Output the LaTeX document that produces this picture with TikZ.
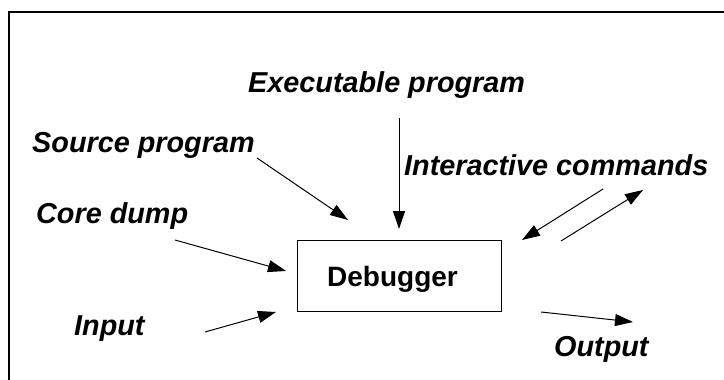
\documentclass[tikz,border=0pt]{standalone}
\usepackage{fontspec}
\setmainfont{Liberation Sans}
\usetikzlibrary{arrows.meta}
\begin{document}
\begin{tikzpicture}[x=1pt,y=-1pt,
  lbl/.style={anchor=base west,inner sep=0pt,font=\fontsize{28.8}{32}\selectfont\bfseries\itshape},
  flow/.style={line width=1pt,-{Triangle[length=18pt,width=12pt]}},
  boxnode/.style={draw,line width=1pt,minimum width=204pt,minimum height=71pt,inner sep=0pt,
    text depth=0pt,font=\fontsize{28}{32}\selectfont\bfseries}]
\useasboundingbox (0,0) rectangle (724,380);
\draw[line width=1.2pt] (9,380) -- (9,12) -- (724,12);
\node[boxnode] (dbg) at (399,276) {Debugger\kern13pt};
\node[lbl] (exe) at (248,92) {Executable program};
\node[lbl] (src) at (32,152) {Source program};
\node[lbl] (core) at (36,223) {Core dump};
\node[lbl] (inp) at (74,335) {Input};
\node[lbl] (inter) at (404,175) {Interactive commands};
\node[lbl] (out) at (554,356) {Output};
\coordinate (exeS) at (399,118);
\coordinate (exeT) at (399,229);
\coordinate (srcS) at (257,158);
\coordinate (srcT) at (348,220);
\coordinate (coreS) at (175,240);
\coordinate (coreT) at (286,271);
\coordinate (inpS) at (205,332);
\coordinate (inpT) at (276,312);
\coordinate (inS) at (603,189);
\coordinate (inT) at (522,240);
\coordinate (outS1) at (561,241);
\coordinate (outT1) at (643,190);
\coordinate (outS) at (541,312);
\coordinate (outT) at (633,322);
\draw[flow] (exeS) -- (exeT);
\draw[flow] (srcS) -- (srcT);
\draw[flow] (coreS) -- (coreT);
\draw[flow] (inpS) -- (inpT);
\draw[flow] (inS) -- (inT);
\draw[flow] (outS1) -- (outT1);
\draw[flow] (outS) -- (outT);
\end{tikzpicture}
\end{document}
